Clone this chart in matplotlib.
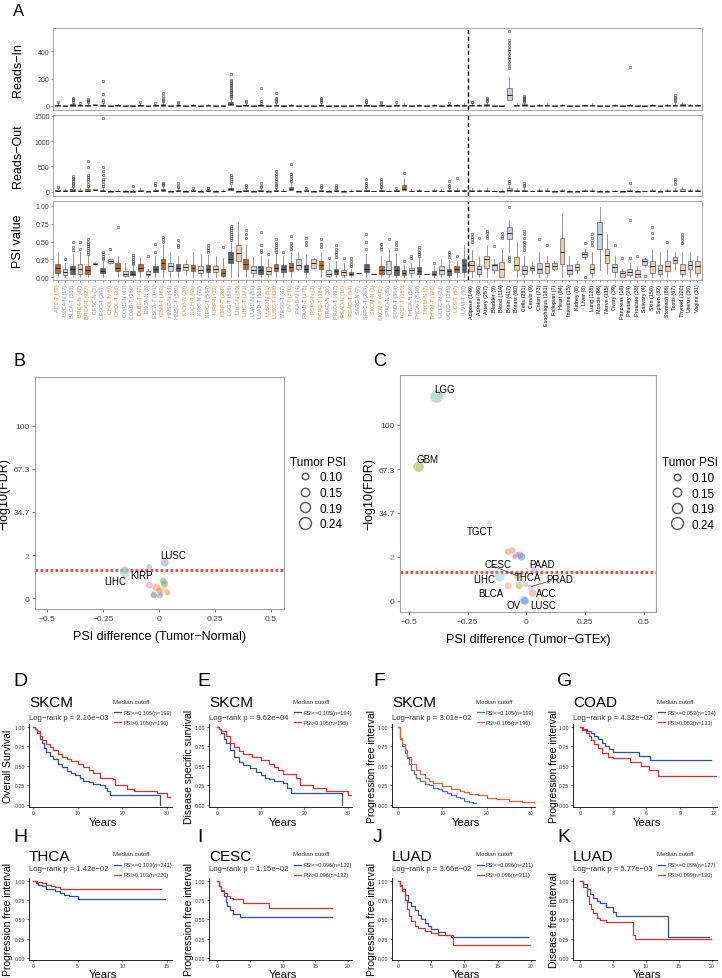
import matplotlib
matplotlib.use('Agg')
from matplotlib import pyplot as plt
from matplotlib.lines import Line2D
import numpy as np

plt.rcParams['font.family'] = ['Liberation Sans', 'DejaVu Sans']

W, H = 722, 979

# ---------------- panel A data ----------------
tcga_names = ['ACC-T', 'BLCA-N', 'BLCA-T', 'BRCA-N', 'BRCA-T', 'CESC-N', 'CESC-T', 'CHOL-N', 'CHOL-T',
              'COAD-N', 'COAD-T', 'DLBC-T', 'ESCA-N', 'ESCA-T', 'GBM-T', 'HNSC-N', 'HNSC-T', 'KICH-N',
              'KICH-T', 'KIRC-N', 'KIRC-T', 'KIRP-N', 'KIRP-T', 'LGG-T', 'LIHC-N', 'LIHC-T', 'LUAD-N',
              'LUAD-T', 'LUSC-N', 'LUSC-T', 'MESO-T', 'OV-T', 'PAAD-N', 'PAAD-T', 'PCPG-N', 'PCPG-T',
              'PRAD-N', 'PRAD-T', 'READ-N', 'READ-T', 'SARC-N', 'SARC-T', 'SKCM-N', 'SKCM-T', 'STAD-N',
              'STAD-T', 'TGCT-T', 'THCA-N', 'THCA-T', 'THYM-N', 'THYM-T', 'UCEC-N', 'UCEC-T', 'UCS-T', 'UVM-T']
tcga_n = [79, 17, 333, 87, 927, 3, 264, 9, 28, 41, 286, 47, 8, 141, 160, 44, 502, 24, 65, 72, 534, 32, 289,
          526, 50, 371, 59, 515, 51, 498, 87, 379, 4, 178, 3, 184, 52, 497, 10, 94, 2, 263, 1, 472, 36, 384,
          150, 59, 510, 2, 120, 23, 181, 57, 80]
gtex_names = ['Adipose', 'Adrenal', 'Artery', 'Bladder', 'Blood', 'Brain', 'Breast', 'Cells', 'Cervix',
              'Colon', 'Esophagus', 'Fallopian', 'Heart', 'Intestine', 'Kidney', 'Liver', 'Lung', 'Muscle',
              'Nerve', 'Ovary', 'Pancreas', 'Pituitary', 'Prostate', 'Salivary', 'Skin', 'Spleen', 'Stomach',
              'Testis', 'Thyroid', 'Uterus', 'Vagina']
gtex_n = [149, 86, 257, 9, 114, 417, 80, 261, 9, 73, 181, 7, 84, 15, 8, 8, 128, 86, 115, 39, 16, 24, 38, 4,
          150, 32, 86, 67, 120, 36, 31]

psi_lo = [0, 0, 0, 0, 0, .17, 0, .19, 0, 0, 0, 0, 0, 0, 0, 0, 0, .03, 0, 0, 0, 0, 0, 0, 0, 0, 0, 0, 0, 0, 0, 0,
          .1, 0, .12, 0, 0, 0, 0, 0, .06, 0, .05, 0, 0, 0, 0, 0, 0, .05, 0, 0, 0, 0, 0,
          0, 0, 0, .05, 0, .35, 0, 0, .05, 0, 0, .1, 0, 0, .06, .25, 0, .1, .05, 0, 0, 0, 0, .14, 0, 0, 0, .1, 0, 0, 0]
psi_q1 = [.064, .036, .05, .05, .045, .18, .06, .2, .08, .02, .03, .09, .03, .07, .12, .09, .08, .1, .08, .06,
          .07, .07, .02, .2, .22, .12, .06, .05, .05, .08, .07, .08, .12, .07, .13, .12, .02, .04, .03, .03,
          .06, .07, .05, .045, .045, .03, .03, .06, .045, .05, .03, .045, .035, .07, .07,
          .08, .045, .13, .1, 0, .54, .1, .045, .1, .06, .06, .12, .18, .045, .1, .29, .06, .39, .2, .07, 0,
          .035, 0, .17, .065, .045, .08, .2, .045, .11, .065]
psi_med = [.127, .075, .11, .11, .1, .19, .09, .22, .13, .05, .05, .13, .05, .11, .2, .16, .13, .14, .13, .1,
           .12, .12, .06, .26, .34, .19, .1, .1, .09, .13, .12, .14, .17, .11, .2, .17, .05, .08, .07, .05,
           .06, .12, .05, .1, .1, .1, .06, .1, .08, .05, .05, .1, .08, .11, .17,
           .17, .12, .25, .17, .11, .62, .17, .1, .13, .12, .15, .16, .35, .1, .14, .32, .12, .6, .31, .14,
           .06, .07, .05, .22, .15, .1, .15, .24, .1, .17, .16]
psi_q3 = [.186, .11, .16, .18, .16, .2, .13, .25, .2, .09, .08, .18, .08, .16, .26, .2, .18, .18, .17, .15,
          .17, .16, .12, .35, .45, .26, .15, .15, .14, .18, .17, .2, .25, .17, .25, .22, .1, .12, .1, .07,
          .06, .18, .05, .16, .22, .16, .1, .13, .14, .05, .08, .16, .12, .15, .25,
          .23, .16, .3, .19, .21, .7, .29, .16, .16, .2, .2, .2, .55, .17, .18, .35, .19, .78, .4, .19, .08,
          .11, .1, .25, .23, .17, .23, .28, .19, .23, .23]
psi_hi = [.35, .2, .33, .36, .3, .21, .22, .27, .3, .2, .15, .28, .12, .3, .45, .36, .3, .24, .35, .32, .31,
          .3, .27, .48, .77, .45, .28, .3, .25, .33, .3, .36, .36, .33, .27, .35, .2, .22, .2, .12, .06, .33,
          .05, .3, .4, .32, .17, .2, .27, .05, .15, .25, .24, .22, .45,
          .38, .3, .45, .26, .4, .8, .5, .3, .22, .35, .3, .23, .9, .3, .22, .4, .35, .99, .6, .3, .12, .2,
          .15, .27, .4, .35, .4, .35, .35, .35, .3]
psi_out = {1: [.26], 2: [.38, .43, .5], 3: [.4, .5], 4: [.33, .36, .38, .41, .44, .47, .5, .53],
           6: [.25, .27, .3, .33, .35], 7: [.4], 8: [.7], 10: [.18, .2, .23, .26, .29, .31], 12: [.3],
           13: [.35, .47], 14: [.5, .53, .56], 16: [.42, .45, .52], 20: [.35, .38, .41, .45], 22: [.43],
           23: [.52, .55, .58, .6, .63, .66, .69, .72], 25: [.55, .6, .66], 27: [.35, .38, .45, .64],
           28: [.32], 29: [.36, .39, .42, .45, .48, .53], 30: [.36], 31: [.4, .44, .48, .58], 33: [.45, .5, .55],
           35: [.42, .47, .53], 36: [.27], 37: [.28, .32, .36, .4, .45], 38: [.27], 39: [.15, .19, .23, .27],
           41: [.4, .5, .6], 43: [.4, .43, .46], 44: [.54], 45: [.4, .45, .5], 46: [.22], 47: [.27, .3],
           48: [.3, .33, .36, .39, .42], 50: [.2], 52: [.28, .32, .36], 53: [.3],
           55: [.5, .53, .56, .6], 56: [.55], 57: [.55, .58, .62, .65], 58: [.44], 59: [.55, .58, .62],
           60: [.22, .25, .28, .99], 62: [.38, .42, .46, .5, .55, .6, .65], 64: [.53], 65: [.45],
           70: [0.0, .48], 71: [.45, .5, .55, .6], 74: [.45], 75: [.27], 76: [.27, .8], 77: [.3], 78: [.01],
           79: [.55, .62, .7], 81: [.5], 83: [.48, .52, .56, .6]}

rin_q1 = [1, 0, 1, 1, 1, 4, 1, 0, 1, 0, 0, 1, 0, 1, 2, 0, 1, 0, 1, 0, 1, 0, 0, 5, 0, 1, 0, 1, 0, 1, 0, 1, 0, 0,
          0, 1, 0, 0, 0, 0, 2, 1, 2, 1, 0, 1, 1, 0, 1, 2, 1, 0, 1, 1, 1,
          1, 1, 2, 1, 0, 45, 1, 1, 1, 1, 1, 1, 1, 0, 1, 1, 1, 0, 1, 1, 1, 1, 1, 1, 1, 1, 1, 1, 2, 1, 1]
rin_med = [4, 2, 5, 3, 4, 8, 3, 2, 3, 1, 2, 4, 1, 3, 6, 1, 3, 1, 3, 1, 3, 2, 2, 12, 2, 4, 1, 3, 1, 4, 2, 3, 1,
           2, 1, 4, 1, 2, 1, 2, 3, 4, 2, 3, 1, 3, 4, 2, 3, 2, 3, 2, 3, 3, 4,
           4, 3, 6, 2, 2, 80, 4, 5, 2, 3, 4, 2, 3, 2, 2, 3, 4, 2, 2, 3, 2, 3, 2, 2, 3, 2, 3, 4, 6, 3, 3]
rin_q3 = [10, 5, 12, 8, 10, 12, 8, 5, 8, 3, 5, 10, 3, 8, 14, 3, 8, 3, 7, 3, 7, 5, 5, 30, 5, 10, 3, 8, 4, 10, 5,
          7, 3, 5, 3, 10, 3, 5, 3, 5, 5, 10, 3, 8, 3, 7, 10, 5, 7, 3, 7, 5, 7, 8, 10,
          10, 7, 14, 4, 5, 130, 10, 12, 4, 8, 10, 5, 8, 5, 5, 7, 10, 5, 5, 7, 4, 8, 5, 5, 8, 5, 8, 10, 15, 8, 8]
rin_hi = [20, 10, 25, 15, 22, 14, 18, 10, 15, 6, 10, 20, 6, 15, 30, 6, 16, 6, 14, 6, 14, 10, 10, 55, 10, 20, 6,
          16, 8, 20, 10, 15, 6, 10, 6, 20, 6, 10, 6, 10, 6, 20, 3, 16, 6, 14, 20, 10, 14, 4, 14, 10, 14, 15, 20,
          20, 14, 28, 5, 10, 210, 20, 22, 6, 15, 20, 8, 15, 10, 7, 10, 20, 10, 10, 14, 8, 15, 9, 6, 16, 10, 15,
          20, 28, 15, 15]
rin_out = {0: [25], 2: [30, 40, 50, 60], 3: [20], 4: [28, 35, 42, 50], 6: [25, 40, 90, 180], 11: [25], 13: [20],
           14: [35, 42, 50, 70, 95], 16: [22, 30],
           23: [60, 70, 80, 90, 100, 110, 120, 130, 140, 150, 160, 170, 180, 190, 230], 25: [25, 35],
           27: [22, 35, 130], 29: [28, 38, 48, 60, 95], 35: [28, 40, 50, 60], 41: [25, 32, 40], 43: [22, 30],
           45: [28], 52: [20], 55: [25, 30], 57: [35, 45, 52, 60],
           60: [280, 300, 320, 340, 360, 380, 400, 420, 440, 460, 480, 545], 62: [28, 35, 42, 50, 58, 65, 72],
           76: [284], 82: [35, 45, 55, 65, 80]}

rout_q1 = [5, 4, 6, 4, 6, 35, 5, 2, 3, 1, 2, 5, 2, 4, 8, 1, 4, 1, 3, 1, 3, 2, 3, 30, 2, 5, 1, 5, 2, 6, 3, 40, 2,
           3, 2, 5, 2, 3, 1, 3, 18, 5, 5, 5, 3, 4, 30, 3, 4, 8, 4, 3, 4, 5, 3,
           4, 3, 6, 3, 2, 20, 5, 5, 4, 4, 5, 2, 4, 2, 2, 4, 5, 2, 2, 3, 2, 4, 2, 3, 4, 2, 4, 5, 8, 4, 4]
rout_med = [15, 10, 20, 12, 18, 40, 15, 5, 8, 4, 6, 15, 4, 12, 25, 4, 12, 4, 10, 4, 10, 6, 8, 50, 5, 15, 4, 14,
            5, 18, 8, 60, 4, 10, 5, 15, 5, 10, 4, 8, 20, 15, 5, 14, 8, 12, 60, 8, 12, 10, 12, 8, 12, 15, 10,
            12, 10, 18, 6, 5, 40, 15, 15, 8, 10, 14, 6, 12, 6, 6, 10, 14, 5, 6, 8, 5, 10, 6, 6, 12, 6, 10, 14,
            20, 10, 10]
rout_q3 = [35, 25, 45, 30, 45, 45, 40, 12, 20, 10, 15, 35, 10, 30, 55, 10, 30, 10, 25, 10, 25, 15, 20, 80, 12,
           35, 10, 32, 12, 40, 20, 100, 8, 25, 10, 35, 12, 25, 10, 20, 22, 35, 5, 30, 18, 28, 140, 20, 28, 12,
           28, 20, 28, 35, 25,
           30, 25, 40, 12, 12, 80, 35, 35, 15, 22, 32, 12, 28, 14, 12, 22, 32, 12, 12, 18, 10, 22, 14, 10, 28,
           14, 22, 32, 45, 22, 22]
rout_hi = [75, 55, 100, 65, 100, 50, 90, 25, 45, 22, 32, 75, 20, 65, 120, 22, 65, 22, 55, 22, 55, 32, 45, 140,
           25, 75, 22, 70, 25, 85, 45, 180, 12, 55, 20, 75, 25, 55, 22, 45, 24, 75, 5, 65, 40, 60, 250, 45, 60,
           14, 60, 45, 60, 75, 55,
           65, 55, 85, 25, 25, 140, 75, 75, 30, 48, 70, 25, 60, 30, 25, 48, 70, 25, 25, 40, 20, 48, 30, 15, 60,
           30, 48, 70, 95, 48, 48]
rout_out = {0: [100], 2: [120, 150, 180, 210, 240, 270, 300], 4: [120, 160, 200, 240, 280, 320, 480, 600],
            6: [110, 150, 200, 250, 330, 400, 480, 1450], 10: [120], 13: [140, 180], 14: [140, 160, 180],
            16: [90, 120, 170], 18: [80], 20: [70, 80], 23: [170, 200, 240, 280, 330], 25: [100, 130],
            27: [90, 120, 170], 29: [100, 130, 160, 200, 250, 300, 350, 400], 31: [210, 250, 300, 350, 540],
            33: [70], 35: [100, 130], 37: [70, 100, 130], 41: [90, 130, 180, 240], 43: [90, 120, 160, 200, 245],
            45: [80], 46: [370], 52: [90, 140, 200], 53: [260], 60: [170, 200], 62: [110, 140, 170], 76: [170],
            82: [150, 200, 240]}

# ---------------- panel B / C data ----------------
b_names = ['LUSC', 'KIRP', 'LIHC', 'KICH', 'BLCA', 'BRCA', 'ESCA', 'HNSC', 'KIRC', 'PRAD', 'STAD', 'THCA',
           'UCEC', 'COAD', 'LUAD']
b_diff = [0.025, -0.044, -0.153, -0.156, -0.044, 0.018, 0.025, -0.012, 0.018, 0.037, -0.024, 0.003, 0.0, 0.01, 0.022]
b_fdr = [1.65, 1.45, 1.19, 1.3, 0.61, 0.81, 0.66, 0.5, 0.43, 0.27, 0.15, 0.12, 0.35, 0.2, 0.72]
b_psi = [0.13, 0.08, 0.19, 0.13, 0.11, 0.1, 0.11, 0.13, 0.12, 0.08, 0.1, 0.08, 0.08, 0.05, 0.1]
b_labels = {'LUSC': (0.063, 1.98), 'KIRP': (-0.078, 1.07), 'LIHC': (-0.197, 0.78)}

c_names = ['LGG', 'GBM', 'TGCT', 'SKCM', 'STAD', 'COAD', 'KIRP', 'KIRC', 'HNSC', 'PAAD', 'LIHC', 'CESC',
           'THCA', 'BLCA', 'ESCA', 'UCEC', 'PRAD', 'ACC', 'OV', 'LUSC']
c_diff = [-0.382, -0.459, -0.157, -0.078, -0.06, -0.05, -0.043, -0.028, -0.021, 0.031, -0.114, -0.04,
          -0.03, -0.078, -0.031, -0.004, 0.017, 0.026, -0.012, -0.006]
c_fdr = [121, 69, 27.3, 5.9, 6.9, 2.3, 4.0, 3.3, 2.1, 1.41, 1.11, 1.1, 1.2, 0.69, 0.69, 0.77, 0.62, 0.36, 0.04, 0.0]
c_psi = [0.26, 0.2, 0.06, 0.1, 0.1, 0.05, 0.06, 0.12, 0.13, 0.11, 0.19, 0.09, 0.08, 0.11, 0.11, 0.08, 0.08,
         0.13, 0.14, 0.13]
c_labels = {'LGG': (-0.35, 9.64), 'GBM': (-0.42, 6.44), 'TGCT': (-0.197, 3.17), 'CESC': (-0.121, 1.7),
            'PAAD': (0.067, 1.7), 'LIHC': (-0.178, 1.02), 'THCA': (0.007, 1.07), 'PRAD': (0.14, 0.99),
            'BLCA': (-0.15, 0.36), 'ACC': (0.083, 0.36), 'OV': (-0.057, -0.18), 'LUSC': (0.071, -0.18)}

psi_legend = [0.10, 0.15, 0.19, 0.24]
y_ticks_fdr = [0, 2, 34.7, 67.3, 100]

# ---------------- survival data ----------------
d_lo_t = [0, 0.5, 1, 1.5, 2, 2.5, 3, 3.75, 4.5, 5.5, 6.5, 7.5, 8.5, 9.5, 10.5, 11.25, 12.5, 13.5, 15, 16, 16.5, 17.3, 28.5]
d_lo_s = [1, .97, .92, .85, .79, .73, .68, .63, .59, .53, .48, .44, .41, .38, .34, .31, .29, .27, .25, .22, .18, .12, 0]
d_hi_t = [0, 0.5, 1, 1.5, 2, 3, 3.75, 4.5, 5.5, 6.5, 7.5, 8.5, 10, 11.25, 12.5, 13.5, 15, 18, 18.4, 21, 22.5, 27.7, 30, 30.7]
d_hi_s = [1, .98, .95, .88, .84, .78, .74, .7, .65, .62, .59, .56, .52, .49, .45, .41, .35, .33, .25, .2, .17, .15, .1, .1]
e_lo_t = [0, 0.5, 1, 1.5, 2, 3, 4, 5, 6, 7.5, 9, 10, 11, 12, 13, 15, 16, 17, 28.5]
e_lo_s = [1, .97, .92, .85, .79, .7, .62, .55, .51, .47, .42, .38, .35, .33, .31, .28, .21, .15, 0]
e_hi_t = [0, 0.5, 1, 2, 3, 4, 5, 6, 8, 10, 12, 13, 14, 15, 18, 19, 22, 25, 30, 31]
e_hi_s = [1, .98, .95, .88, .8, .74, .69, .65, .62, .57, .53, .48, .45, .39, .35, .26, .22, .17, .12, .12]
f_lo_t = [0, 0.5, 1, 1.5, 2, 2.5, 3, 3.5, 4, 5, 6, 7, 8, 9, 10, 11, 12, 13, 14, 15, 16, 17, 17.5]
f_lo_s = [1, .85, .75, .67, .6, .52, .45, .4, .35, .3, .27, .25, .22, .2, .18, .15, .13, .1, .08, .05, .03, .02, .02]
f_hi_t = [0, 0.5, 1, 1.5, 2, 3, 4, 5, 6, 7, 8, 10, 12, 14, 15, 16, 18, 20, 22, 25, 28, 31]
f_hi_s = [1, .86, .78, .7, .62, .52, .45, .4, .35, .31, .28, .24, .2, .18, .16, .14, .12, .08, .07, .05, .03, .02]
g_lo_t = [0, 0.3, 0.6, 1, 1.3, 1.6, 2, 2.3, 2.6, 3, 5.3, 6.3, 11.8]
g_lo_s = [1, .98, .95, .92, .88, .85, .8, .76, .72, .68, .63, .58, .58]
g_hi_t = [0, 0.2, 0.5, 0.8, 1, 1.3, 1.6, 2, 2.5, 3, 4.5, 5.5, 6.2, 7, 12.3]
g_hi_s = [1, .96, .92, .88, .84, .78, .73, .67, .62, .6, .55, .5, .45, .37, .37]
h_lo_t = [0, 0.3, 0.6, 1, 1.5, 2, 2.5, 3, 3.5, 4, 5, 14.8]
h_lo_s = [1, .98, .95, .93, .9, .89, .87, .85, .82, .8, .77, .77]
h_hi_t = [0, 0.5, 1, 1.5, 2, 2.5, 3, 14.3]
h_hi_s = [1, .99, .97, .95, .93, .92, .9, .9]
i_lo_t = [0, 0.3, 0.6, 1, 1.3, 1.6, 2, 2.5, 3.5, 17.5]
i_lo_s = [1, .93, .87, .8, .73, .68, .62, .57, .53, .53]
i_hi_t = [0, 0.3, 0.6, 1, 1.5, 2, 2.5, 4, 8, 17.5]
i_hi_s = [1, .93, .88, .84, .8, .78, .76, .72, .65, .65]
j_lo_t = [0, 0.3, 0.6, 1, 1.5, 2, 2.5, 3, 3.5, 4, 4.5, 5, 6, 7, 8, 19.5]
j_lo_s = [1, .95, .9, .82, .73, .67, .62, .56, .5, .45, .41, .38, .34, .3, .27, .27]
j_hi_t = [0, 0.3, 0.6, 1, 1.3, 1.6, 2, 2.5, 3, 4, 5, 6, 8.3, 19.8]
j_hi_s = [1, .94, .87, .75, .63, .55, .48, .42, .39, .35, .32, .3, .16, .16]
k_lo_t = [0, 0.5, 1, 1.5, 2, 2.5, 3, 4, 5, 5.5, 13.3, 19.5]
k_lo_s = [1, .96, .9, .83, .78, .74, .71, .66, .59, .54, .27, .27]
k_hi_t = [0, 0.5, 1, 1.3, 1.6, 2, 2.5, 3, 4, 8.1, 8.3, 19.8]
k_hi_s = [1, .92, .8, .7, .63, .58, .52, .49, .46, .3, .25, .25]

surv_cancer = ['SKCM', 'SKCM', 'SKCM', 'COAD', 'THCA', 'CESC', 'LUAD', 'LUAD']
surv_ylab = ['Overall Survival', 'Disease specific survival', 'Progression free interval',
             'Progression free interval', 'Progression free interval', 'Progression free interval',
             'Progression free interval', 'Disease free interval']
surv_p = ['2.16e\u221203', '9.62e\u221204', '3.01e\u221202', '4.32e\u221202', '1.42e\u221202', '1.15e\u221202',
          '3.66e\u221202', '5.77e\u221203']
surv_cut = [0.105, 0.105, 0.105, 0.053, 0.103, 0.096, 0.096, 0.099]
surv_n_lo = [199, 194, 199, 134, 241, 132, 211, 127]
surv_n_hi = [196, 195, 196, 133, 220, 132, 211, 130]
surv_xticks = [[0, 10, 20, 30], [0, 10, 20, 30], [0, 10, 20, 30], [0, 3, 6, 9, 12],
               [0, 5, 10, 15], [0, 5, 10, 15, 20], [0, 5, 10, 15, 20], [0, 5, 10, 15, 20]]
surv_curves = [(d_lo_t, d_lo_s, d_hi_t, d_hi_s), (e_lo_t, e_lo_s, e_hi_t, e_hi_s),
               (f_lo_t, f_lo_s, f_hi_t, f_hi_s), (g_lo_t, g_lo_s, g_hi_t, g_hi_s),
               (h_lo_t, h_lo_s, h_hi_t, h_hi_s), (i_lo_t, i_lo_s, i_hi_t, i_hi_s),
               (j_lo_t, j_lo_s, j_hi_t, j_hi_s), (k_lo_t, k_lo_s, k_hi_t, k_hi_s)]

# ---------------- drawing ----------------
fig = plt.figure(figsize=(W / 100, H / 100), dpi=100)


def px_axes(l, t, r, b):
    return fig.add_axes([l / W, 1 - b / H, (r - l) / W, (b - t) / H])


def ftext(x, y, s, **kw):
    fig.text(x / W, 1 - y / H, s, **kw)


ORANGE_D, ORANGE_L = '#C2661F', '#F6CCA6'
GRAY_D, GRAY_L = '#5B5F69', '#D2D5DE'
LAV = '#C9CDE3'
LAB_OR, LAB_GR = '#DA8A3E', '#8E8E8E'

n_t = len(tcga_names)
all_names = [f'{a} ({b})' for a, b in zip(tcga_names, tcga_n)] + [f'{a} ({b})' for a, b in zip(gtex_names, gtex_n)]
ncat = len(all_names)

types = []
for nm in tcga_names:
    t = nm.split('-')[0]
    if t not in types:
        types.append(t)
box_col, lab_col = [], []
for nm in tcga_names:
    t, kind = nm.split('-')
    orange = types.index(t) % 2 == 0
    lab_col.append(LAB_OR if orange else LAB_GR)
    if kind == 'T':
        box_col.append(ORANGE_D if orange else GRAY_D)
    else:
        box_col.append(ORANGE_L if orange else GRAY_L)
for k in range(len(gtex_names)):
    lab_col.append('black')
    box_col.append(ORANGE_L if k % 2 == 0 else LAV)


def box_panel(ax, lo, q1, med, q3, hi, out, ylim, yticks, ylabel):
    stats = []
    for i in range(ncat):
        stats.append(dict(whislo=lo[i], q1=q1[i], med=med[i], q3=q3[i], whishi=hi[i], fliers=out.get(i, [])))
    bp = ax.bxp(stats, positions=np.arange(ncat), widths=0.62, patch_artist=True,
                boxprops=dict(linewidth=0.4, edgecolor='#444444'),
                medianprops=dict(color='#222222', linewidth=0.7),
                whiskerprops=dict(linewidth=0.4, color='#444444'),
                capprops=dict(linewidth=0),
                flierprops=dict(marker='o', markersize=1.8, markerfacecolor='none',
                                markeredgecolor='#444444', markeredgewidth=0.4))
    for patch, c in zip(bp['boxes'], box_col):
        patch.set_facecolor(c)
    ax.axvline(n_t - 0.5, color='black', ls=(0, (3, 2)), lw=1.0)
    ax.set_xlim(-0.6, ncat - 0.4)
    ax.set_ylim(*ylim)
    ax.set_yticks(yticks)
    ax.set_yticklabels([('%.2f' % v) if isinstance(v, float) else str(v) for v in yticks])
    ax.tick_params(axis='y', labelsize=5, length=1.5, width=0.4, colors='#444444', pad=1)
    ax.set_ylabel(ylabel, fontsize=9, labelpad=3)
    for s in ax.spines.values():
        s.set_color('#9A9A9A')
        s.set_linewidth(0.6)


ax_in = px_axes(53, 29, 702, 111)
box_panel(ax_in, rin_q1, rin_q1, rin_med, rin_q3, rin_hi, rin_out, (-30, 570), [0, 200, 400], 'Reads\u2212In')
ax_in.set_xticks([])
ax_out = px_axes(53, 116, 702, 197)
box_panel(ax_out, rout_q1, rout_q1, rout_med, rout_q3, rout_hi, rout_out, (-87, 1515), [0, 500, 1000, 1500],
          'Reads\u2212Out')
ax_out.set_xticks([])
ax_psi = px_axes(53, 202, 702, 281)
box_panel(ax_psi, psi_lo, psi_q1, psi_med, psi_q3, psi_hi, psi_out, (-0.04, 1.07),
          [0.0, 0.25, 0.5, 0.75, 1.0], 'PSI value')
ax_psi.set_xticks(np.arange(ncat))
ax_psi.set_xticklabels(all_names, rotation=90, fontsize=3.9,
                       family=['Liberation Sans Narrow', 'Liberation Sans', 'DejaVu Sans'])
ax_psi.tick_params(axis='x', length=1.5, width=0.4, pad=1.2, colors='#444444')
for lab, c in zip(ax_psi.get_xticklabels(), lab_col):
    lab.set_color(c)
for a in (ax_in, ax_out, ax_psi):
    a.yaxis.set_label_coords(-0.045, 0.5)
ftext(13, 12, 'A', fontsize=12, va='center')


# ---------- volcano-like panels ----------
def fy(v):
    v = np.asarray(v, dtype=float)
    return np.where(v <= 2, v, 2 + (v - 2) * 2 / 32.67)


def dsize(p):
    return (4.7 + (p - 0.10) / 0.14 * 3.9) ** 2


b_colors = ['#7EA6E0', '#8FB3A6', '#8ED3BA', '#9DC0B8', '#E58FC0', '#62B86A', '#A99AC7', '#F0A050',
            '#E8C948', '#F08A50', '#4E9A56', '#9F8FC0', '#F07E78', '#B0A0D0', '#88C080']
c_colors = ['#78C6B4', '#9CB33A', '#D7B4C0', '#F09070', '#F0A050', '#E95A5A', '#E38FBE', '#9E8CDC',
            '#6E8FE8', '#B7A6E6', '#8DD5E0', '#F0B060', '#C8B050', '#F4A070', '#B0B838', '#C79BD8',
            '#B8A8E0', '#F29080', '#8FB0F0', '#5C8EE8']


def volcano(ax, diff, fdr, psi, names, colors, labels, xlabel, xlim, ylim):
    ax.scatter(diff, fy(fdr), s=[dsize(p) for p in psi], c=colors, alpha=0.55, edgecolors='none', zorder=3)
    ax.axhline(1.3, color='#E04A3A', ls=(0, (1, 0.8)), lw=2.0, zorder=2)
    for nm, (lx, ly) in labels.items():
        ax.text(lx, ly, nm, fontsize=7, ha='center', va='center', zorder=4)
    ax.set_xlim(*xlim)
    ax.set_ylim(*ylim)
    ax.set_xticks([-0.5, -0.25, 0, 0.25, 0.5])
    ax.set_xticklabels(['\u22120.5', '\u22120.25', '0', '0.25', '0.5'])
    ax.set_yticks(fy(y_ticks_fdr))
    ax.set_yticklabels([str(v) for v in y_ticks_fdr])
    ax.tick_params(labelsize=6, length=2, width=0.5, colors='#444444', pad=2)
    ax.get_yticklabels()[1].set_color('#D8683A')
    for s in ax.spines.values():
        s.set_color('#A0A0A0')
        s.set_linewidth(0.8)
    ax.set_xlabel(xlabel, fontsize=9, labelpad=6)
    ax.set_ylabel('\u2212log10(FDR)', fontsize=9, labelpad=2)
    handles = [Line2D([], [], ls='none', marker='o', markersize=np.sqrt(dsize(p)), markerfacecolor='none',
                      markeredgecolor='#555555', markeredgewidth=1.0) for p in psi_legend]
    ax.legend(handles, ['%.2f' % p for p in psi_legend], title='Tumor PSI', loc='center left',
              bbox_to_anchor=(1.0, 0.5), frameon=False, fontsize=8.5, title_fontsize=8.5,
              handletextpad=0.3, labelspacing=0.3, borderaxespad=0.1)


ax_b = px_axes(35, 378, 284, 610)
volcano(ax_b, b_diff, b_fdr, b_psi, b_names, b_colors, b_labels, 'PSI difference (Tumor\u2212Normal)',
        (-0.555, 0.558), (-0.5, 10.25))
ftext(13, 362, 'B', fontsize=13, va='center')

ax_c = px_axes(400, 376, 656, 613)
volcano(ax_c, c_diff, c_fdr, c_psi, c_names, c_colors, c_labels, 'PSI difference (Tumor\u2212GTEx)',
        (-0.538, 0.551), (-0.5, 10.27))
ax_c.plot([-0.145, -0.04], [1.6, 1.15], color='#333333', lw=0.5, zorder=4)
ax_c.plot([0.105, 0.02], [0.92, 0.66], color='#333333', lw=0.5, zorder=4)
ftext(373, 362, 'C', fontsize=13, va='center')

# ---------- survival panels ----------
rows = [dict(t=725, b=808, title=703, lr=719, leg=702, e1=713, e2=723, letter=682, years=823),
        dict(t=879, b=961, title=857, lr=870, leg=855, e1=866, e2=876, letter=838, years=975)]
cols = [(29, 172), (209, 352), (392, 535), (573, 717)]
xlims = [(-0.9, 31.1), (-1.83, 30.9), (-1.35, 30.9), (-0.63, 12.36),
         (-0.45, 15.56), (-1.22, 20.6), (-0.9, 20.6), (-1.06, 20.75)]
ylabx = [8, 189, 372, 554]
letters = ['D', 'E', 'F', 'G', 'H', 'I', 'J', 'K']
letx = [13, 197, 373, 557]
BLUE, RED = '#2F4FA0', '#D8322C'

for k in range(8):
    r = rows[k // 4]
    l, rr = cols[k % 4]
    ax = px_axes(l, r['t'], rr, r['b'])
    lo_t, lo_s, hi_t, hi_s = surv_curves[k]
    cb, cr = (BLUE, RED) if k != 2 else ('#4E73C2', '#E0643C')
    ax.step(lo_t, lo_s, where='post', color=cb, lw=0.9)
    ax.step(hi_t, hi_s, where='post', color=cr, lw=0.9)
    ax.set_xlim(*xlims[k])
    ax.set_ylim(-0.03, 1.04)
    ax.set_yticks([0, 0.25, 0.5, 0.75, 1.0])
    ax.set_yticklabels(['0.00', '0.25', '0.50', '0.75', '1.00'])
    ax.set_xticks(surv_xticks[k])
    ax.tick_params(labelsize=3.8, length=1.5, width=0.5, pad=1, colors='#333333')
    for s in ('top', 'right'):
        ax.spines[s].set_visible(False)
    for s in ('left', 'bottom'):
        ax.spines[s].set_linewidth(0.6)
    ftext(ylabx[k % 4], (r['t'] + r['b']) / 2, surv_ylab[k], rotation=90, fontsize=7.5, ha='center', va='center')
    ftext((l + rr) / 2 + 2, r['years'], 'Years', fontsize=8, ha='center', va='center')
    ftext(l, r['title'], surv_cancer[k], fontsize=11, va='center')
    ftext(l, r['lr'], 'Log\u2212rank p = ' + surv_p[k], fontsize=5.5, va='center', color='#333333')
    ftext(l + 84, r['leg'], 'Median cutoff', fontsize=4.4, va='center', color='#333333')
    for yy, col, txt in ((r['e1'], cb, 'PSI<=%.3f(n=%d)' % (surv_cut[k], surv_n_lo[k])),
                         (r['e2'], cr, 'PSI>%.3f(n=%d)' % (surv_cut[k], surv_n_hi[k]))):
        fig.add_artist(Line2D([(l + 85) / W, (l + 92) / W], [1 - yy / H, 1 - yy / H], color=col, lw=0.9))
        ftext(l + 94, yy, txt, fontsize=4.0, va='center', color='#333333')
    ftext(letx[k % 4], r['letter'], letters[k], fontsize=14, va='center')

fig.savefig('out.png', dpi=100)
